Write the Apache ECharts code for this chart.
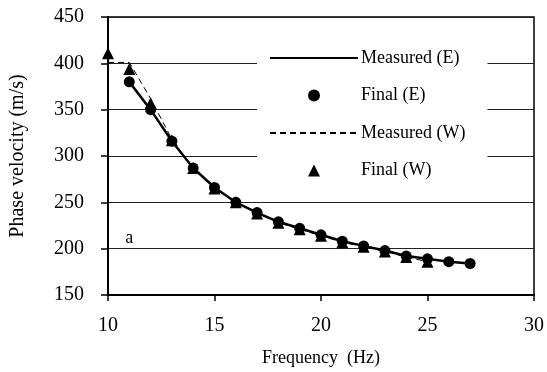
<!DOCTYPE html>
<html>
<head>
<meta charset="utf-8">
<script src="https://cdn.jsdelivr.net/npm/echarts@6/dist/echarts.min.js"></script>
<style>
  html, body { margin: 0; padding: 0; background: #fff; }
  #chart { width: 547px; height: 372px; }
</style>
</head>
<body>
<div id="chart"></div>
<script>
// frequencies (Hz)
const freqE = [11, 12, 13, 14, 15, 16, 17, 18, 19, 20, 21, 22, 23, 24, 25, 26, 27];
const freqW = [10, 11, 12, 13, 14, 15, 16, 17, 18, 19, 20, 21, 22, 23, 24, 25];
// phase velocity (m/s)
const measuredE = [380, 350, 316, 287, 266, 250, 239, 229, 222, 215, 208, 203, 198, 192, 189, 186, 184];
const finalE = [380, 350, 316, 287, 266, 250, 239, 229, 222, 215, 208, 203, 198, 192, 189, 186, 184];
const measuredW = [401, 401, 362, 318, 287, 265, 250, 238, 228, 221, 214, 207, 202, 197, 191, 186];
const finalW = [411, 394, 357, 317, 287, 265, 250, 238, 228, 221, 214, 207, 202, 197, 191, 186];
const seriesNames = ['Measured (E)', 'Final (E)', 'Measured (W)', 'Final (W)'];

const pairs = (xs, ys) => xs.map((x, i) => [x, ys[i]]);
const font = 'Liberation Serif';

let myChart = echarts.init(document.getElementById('chart'));
let option = {
  animation: false,
  textStyle: { fontFamily: font, color: '#000' },
  grid: {
    left: 98, right: 13, top: 17, bottom: 70,
    show: true,
    borderColor: '#000',
    borderWidth: 1.5,
  },
  legend: {
    orient: 'vertical',
    left: 257,
    top: 36,
    padding: [12, 22, 12, 12],
    backgroundColor: '#fff',
    itemWidth: 88,
    itemHeight: 15,
    itemGap: 17.5,
    textStyle: { fontFamily: font, fontSize: 18, color: '#000', lineHeight: 20, padding: [0, 0, 0, -2] },
    data: [
      { name: seriesNames[0], itemStyle: { opacity: 0 } },
      { name: seriesNames[1] },
      { name: seriesNames[2], itemStyle: { opacity: 0 } },
      { name: seriesNames[3] },
    ],
  },
  xAxis: {
    type: 'value',
    min: 10, max: 30, interval: 5,
    name: 'Frequency  (Hz)',
    nameLocation: 'middle',
    nameGap: 54,
    nameTextStyle: { fontFamily: font, fontSize: 18, color: '#000' },
    axisLine: { show: true, lineStyle: { color: '#000', width: 2 } },
    axisTick: { show: true, length: 6, lineStyle: { color: '#000', width: 1.5 } },
    axisLabel: { fontFamily: font, fontSize: 20, color: '#000', margin: 21 },
    splitLine: { show: false },
  },
  yAxis: {
    type: 'value',
    min: 150, max: 450, interval: 50,
    name: 'Phase velocity (m/s)',
    nameLocation: 'middle',
    nameGap: 80,
    nameTextStyle: { fontFamily: font, fontSize: 20, color: '#000' },
    axisLine: { show: true, lineStyle: { color: '#000', width: 2 } },
    axisTick: { show: true, length: 7, lineStyle: { color: '#000', width: 1.5 } },
    axisLabel: { fontFamily: font, fontSize: 20, color: '#000', margin: 24 },
    splitLine: { show: true, lineStyle: { color: '#222', width: 1 } },
  },
  series: [
    {
      name: seriesNames[0],
      type: 'line',
      data: pairs(freqE, measuredE),
      symbol: 'none',
      lineStyle: { color: '#000', width: 2.5 },
      itemStyle: { color: '#000' },
      z: 3,
    },
    {
      name: seriesNames[1],
      type: 'line',
      data: pairs(freqE, finalE),
      symbol: 'circle',
      symbolSize: 11,
      lineStyle: { width: 0, opacity: 0 },
      itemStyle: { color: '#000' },
      z: 4,
    },
    {
      name: seriesNames[2],
      type: 'line',
      data: pairs(freqW, measuredW),
      symbol: 'none',
      lineStyle: { color: '#000', width: 1, type: [6, 4] },
      itemStyle: { color: '#000' },
      z: 3,
    },
    {
      name: seriesNames[3],
      type: 'line',
      data: pairs(freqW, finalW),
      symbol: 'triangle',
      symbolSize: 12,
      lineStyle: { width: 0, opacity: 0 },
      itemStyle: { color: '#000' },
      z: 5,
    },
  ],
};
myChart.setOption(option, true);

// panel label "a"
let pos = myChart.convertToPixel({ gridIndex: 0 }, [11.0, 211]);
myChart.setOption({
  graphic: [{
    type: 'text',
    x: pos[0], y: pos[1],
    style: { text: 'a', font: '18px "Liberation Serif"', fill: '#000', align: 'center', verticalAlign: 'middle' },
  }],
});
</script>
</body>
</html>
